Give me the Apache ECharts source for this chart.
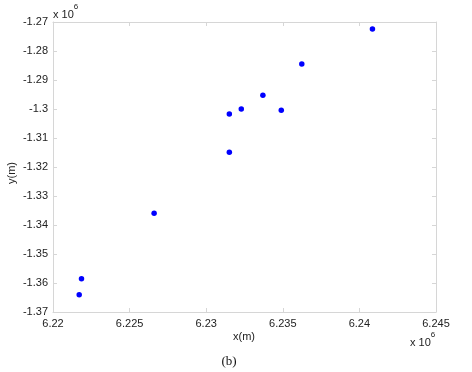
<!DOCTYPE html>
<html>
<head>
<meta charset="utf-8">
<script src="https://cdn.jsdelivr.net/npm/echarts@6/dist/echarts.min.js"></script>
<style>
  html, body { margin: 0; padding: 0; background: #fff; }
  #chart { width: 472px; height: 372px; }
</style>
</head>
<body>
<div id="chart"></div>
<script>
// coordinates in units of 10^6 m, as the axes show them
var xVals = [6.22171, 6.22186, 6.22660, 6.23151, 6.23151, 6.23229, 6.23370, 6.23490, 6.23624, 6.24085];
var yVals = [-1.36403, -1.35852, -1.33597, -1.31493, -1.30172, -1.30000, -1.29528, -1.30045, -1.28448, -1.27241];
var xTicks = [6.22, 6.245, 0.005];
var yTicks = [-1.37, -1.27, 0.01];

var points = xVals.map(function (x, i) { return [x, yVals[i]]; });

var gray = '#d6d6d6';
var font = 'Liberation Sans, Arial, sans-serif';
var fmt = function (v) { return String(parseFloat(v.toFixed(4))); };

function axisBase(extra) {
  var a = {
    type: 'value',
    axisLine: { show: true, lineStyle: { color: gray, width: 1 } },
    axisTick: { show: true, inside: true, length: 4, lineStyle: { color: gray } },
    splitLine: { show: false },
    axisLabel: { show: false }
  };
  for (var k in extra) a[k] = extra[k];
  return a;
}

var chart = echarts.init(document.getElementById('chart'));
chart.setOption({
  backgroundColor: '#fff',
  animation: false,
  grid: { left: 53, right: 36, top: 22, bottom: 60 },
  xAxis: [
    axisBase({
      min: xTicks[0], max: xTicks[1], interval: xTicks[2], position: 'bottom',
      axisLabel: { show: true, color: '#222', fontFamily: font, fontSize: 11, margin: 6, formatter: fmt }
    }),
    axisBase({ min: xTicks[0], max: xTicks[1], interval: xTicks[2], position: 'top' })
  ],
  yAxis: [
    axisBase({
      min: yTicks[0], max: yTicks[1], interval: yTicks[2], position: 'left',
      axisLabel: { show: true, color: '#222', fontFamily: font, fontSize: 11, margin: 5, formatter: fmt }
    }),
    axisBase({ min: yTicks[0], max: yTicks[1], interval: yTicks[2], position: 'right' })
  ],
  series: [{
    type: 'scatter',
    data: points,
    symbol: 'circle',
    symbolSize: 5.5,
    itemStyle: { color: '#0000ff', opacity: 1 }
  }],
  graphic: [
    {
      type: 'text', left: 53, top: 3,
      style: {
        text: '{a|x 10}{s|6}', fill: '#222',
        rich: {
          a: { fontFamily: font, fontSize: 11, padding: [6, 0, 0, 0] },
          s: { fontFamily: font, fontSize: 8, verticalAlign: 'top' }
        }
      }
    },
    {
      type: 'text', left: 410, top: 331,
      style: {
        text: '{a|x 10}{s|6}', fill: '#222',
        rich: {
          a: { fontFamily: font, fontSize: 11, padding: [6, 0, 0, 0] },
          s: { fontFamily: font, fontSize: 8, verticalAlign: 'top' }
        }
      }
    },
    {
      type: 'text', x: 244, y: 337,
      style: { text: 'x(m)', fill: '#222', font: '11px ' + font, align: 'center', verticalAlign: 'middle' }
    },
    {
      type: 'text', x: 12, y: 173, rotation: Math.PI / 2,
      style: { text: 'y(m)', fill: '#222', font: '11px ' + font, align: 'center', verticalAlign: 'middle' }
    },
    {
      type: 'text', x: 229, y: 362,
      style: { text: '(b)', fill: '#111', font: '13px Liberation Serif, Times New Roman, serif', align: 'center', verticalAlign: 'middle' }
    }
  ]
});
</script>
</body>
</html>
